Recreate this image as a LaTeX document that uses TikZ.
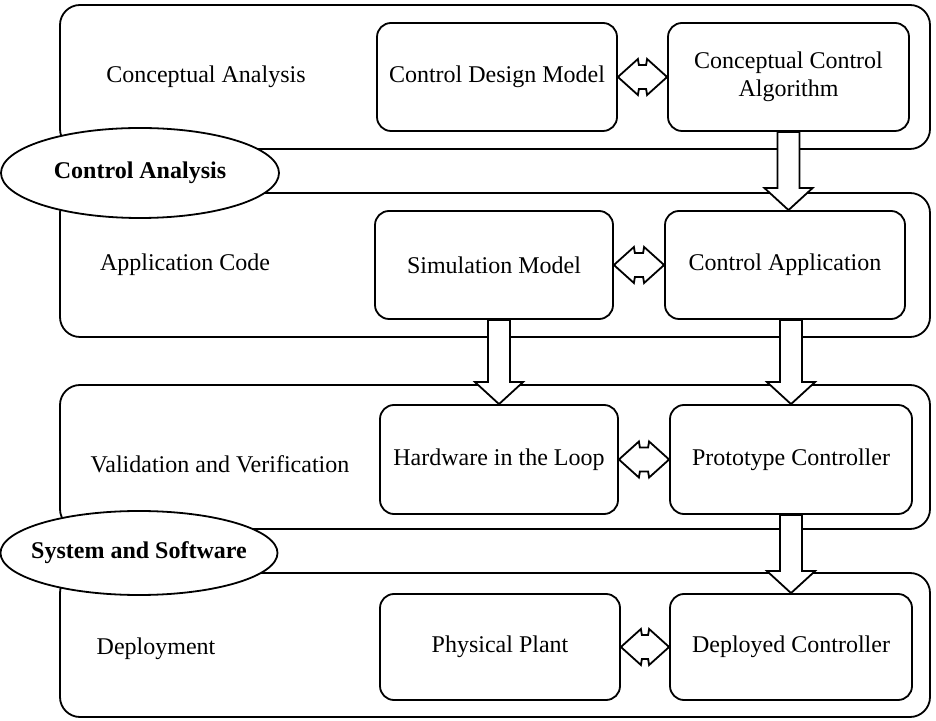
\documentclass[tikz,border=0pt]{standalone}
\usepackage{fontspec}
\setmainfont{Liberation Serif}
\usetikzlibrary{shapes.geometric,calc}
\tikzset{
  band/.style={draw, line width=1.8pt, rounded corners=20pt, minimum width=870pt, minimum height=144pt, inner sep=0pt},
  box/.style={draw, line width=1.8pt, rounded corners=14pt, fill=white, minimum width=240pt, minimum height=108pt, inner sep=0pt, align=center},
  phase/.style={ellipse, draw, line width=1.8pt, fill=white, inner ysep=0pt, inner xsep=-40pt, font=\fontsize{24}{28}\selectfont\bfseries},
  lbl/.style={inner sep=0pt},
  blk/.style={draw, line width=1.8pt, fill=white, line join=miter},
}
\newcommand{\blockarrow}[3]{%
  \draw[blk] let \p1=(#1.south), \p2=(#2.north), \p3=(#3) in
    (\x3-11pt,\y1) -- (\x3-11pt,\y2+22pt) -- (\x3-24pt,\y2+22pt) -- (\x3,\y2)
    -- (\x3+24pt,\y2+22pt) -- (\x3+11pt,\y2+22pt) -- (\x3+11pt,\y1) -- cycle;}
\newcommand{\dblarrow}[2]{%
  \draw[blk] let \p1=(#1.east), \p2=(#2.west) in
    (\x1,\y1) -- (\x1+20pt,\y1+18pt) -- (\x1+21pt,\y1+12pt) -- (\x2-21pt,\y1+12pt)
    -- (\x2-20pt,\y1+18pt) -- (\x2,\y1) -- (\x2-20pt,\y1-18pt) -- (\x2-21pt,\y1-12pt)
    -- (\x1+21pt,\y1-12pt) -- (\x1+20pt,\y1-18pt) -- cycle;}
\begin{document}
\begin{tikzpicture}[x=1pt,y=1pt,font=\fontsize{24}{28}\selectfont]
\useasboundingbox (0,0) rectangle (936,720);
% bands
\node[band] (b1) at (495,643) {};
\node[band] (b2) at (495,455) {};
\node[band] (b3) at (495,263) {};
\node[band] (b4) at (495,75) {};
% phase ellipses
\node[phase, minimum width=278pt, minimum height=90pt] (ca) at (140,547) {Control Analysis};
\node[phase, minimum width=277pt, minimum height=84pt] (ss) at (139,167) {System and Software};
% left labels
\node[lbl] (l1) at (206,643) {Conceptual Analysis};
\node[lbl] (l2) at (185,455) {Application Code};
\node[lbl] (l3) at (220,256) {Validation and Verification};
\node[lbl] (l4) at (156,71) {Deployment};
% boxes
\node[box] (cdm) at (497,643) {Control Design Model};
\node[box, minimum width=241pt] (cca) at (788.5,643) {Conceptual Control\\Algorithm};
\node[box, minimum width=238pt] (sm) at (494,455) {Simulation Model};
\node[box] (capp) at (785,455) {Control Application};
\node[box, minimum width=238pt, minimum height=109pt] (hil) at (499,260.5) {Hardware in the Loop};
\node[box, minimum width=242pt, minimum height=109pt] (pc) at (791,260.5) {Prototype Controller};
\node[box, minimum height=106pt] (pp) at (500,73) {Physical Plant};
\node[box, minimum width=242pt, minimum height=106pt] (dc) at (791,73) {Deployed Controller};
% double arrows
\dblarrow{cdm}{cca}
\dblarrow{sm}{capp}
\dblarrow{hil}{pc}
\dblarrow{pp}{dc}
% block arrows
\blockarrow{cca}{capp}{cca}
\blockarrow{sm}{hil}{hil}
\blockarrow{capp}{pc}{pc}
\blockarrow{pc}{dc}{dc}
\end{tikzpicture}
\end{document}
